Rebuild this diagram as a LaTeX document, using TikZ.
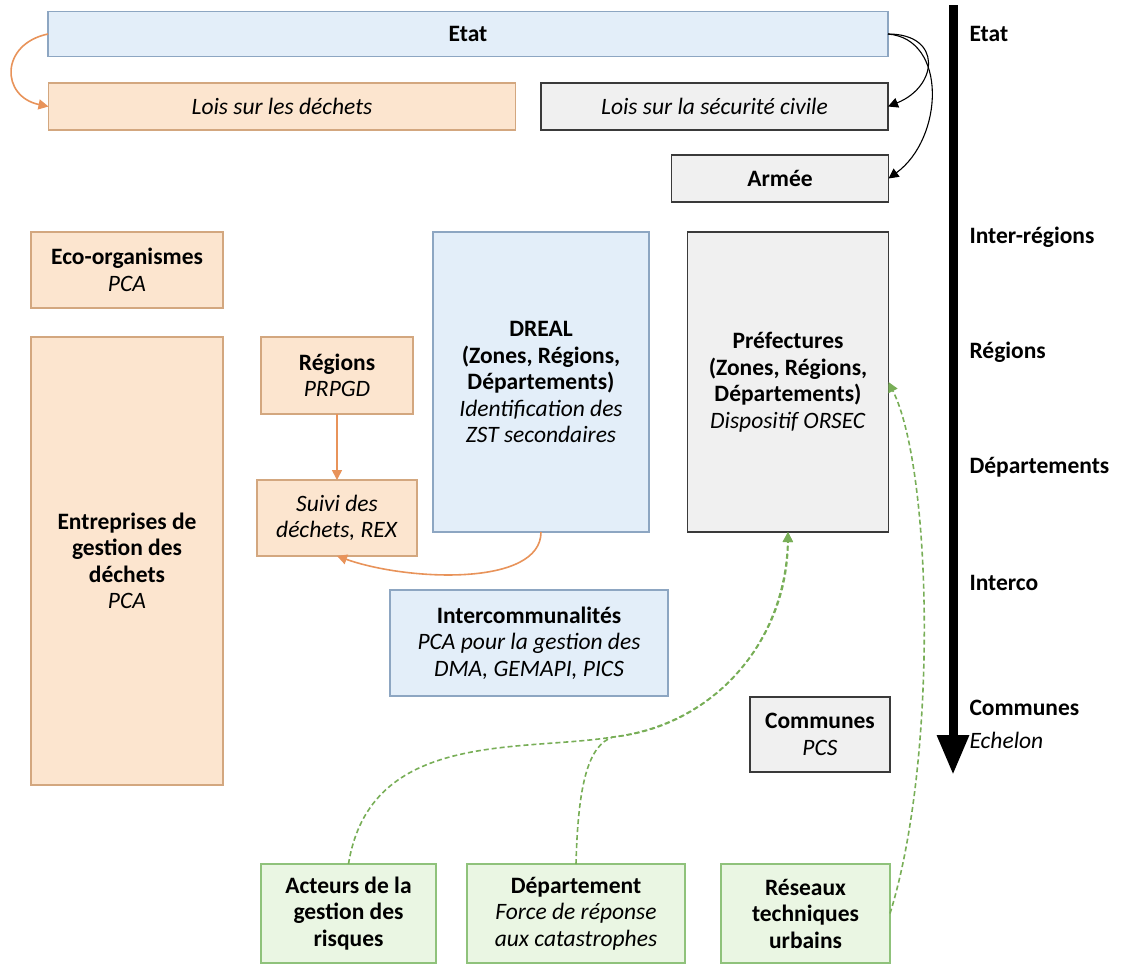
\documentclass[tikz,border=0pt]{standalone}
\usepackage{fontspec}
\setmainfont{Carlito}
\usepackage{tikz}
\usetikzlibrary{arrows.meta, positioning}

\definecolor{bleufond}{HTML}{E3EEF9}
\definecolor{bleutrait}{HTML}{8DA6C2}
\definecolor{orfond}{HTML}{FCE5CF}
\definecolor{ortrait}{HTML}{D3A77F}
\definecolor{orfleche}{HTML}{E8935A}
\definecolor{grisfond}{HTML}{F0F0F0}
\definecolor{gristrait}{HTML}{3A3A3A}
\definecolor{vertfond}{HTML}{EAF6E3}
\definecolor{verttrait}{HTML}{8FC27B}
\definecolor{vertfleche}{HTML}{78AE57}

\begin{document}
\begin{tikzpicture}[
  x=1pt, y=-1pt, font=\fontsize{23.5}{26.5}\selectfont,
  >={Triangle[length=10pt, width=10pt]},
  boite/.style={draw, line width=1.3pt, align=center, inner sep=0pt, outer sep=0pt},
  bleu/.style={boite, fill=bleufond, draw=bleutrait},
  dech/.style={boite, fill=orfond, draw=ortrait},
  secu/.style={boite, fill=grisfond, draw=gristrait},
  appui/.style={boite, fill=vertfond, draw=verttrait},
  niveau/.style={anchor=west, font=\fontsize{23.5}{26.5}\selectfont\bfseries},
  flor/.style={->, orfleche, line width=1.6pt},
  flnoir/.style={->, black, line width=1.1pt},
  flvert/.style={->, vertfleche, line width=1.6pt, dash pattern=on 5pt off 3pt}]
  \useasboundingbox (0,0) rectangle (1123,970);
  % niveau Etat
  \node[bleu, minimum width=840pt, minimum height=45pt] (etat) at (468,34) {\textbf{Etat}};
  \node[dech, minimum width=467pt, minimum height=47pt] (loisdech) at (282,106.5) {\textit{Lois sur les déchets}};
  \node[secu, minimum width=347pt, minimum height=47pt] (loissecu) at (714.5,106.5) {\textit{Lois sur la sécurité civile}};
  \node[secu, minimum width=217pt, minimum height=47pt] (armee) at (780,178.5) {\textbf{Armée}};
  % déchets
  \node[dech, minimum width=192pt, minimum height=76pt] (eco) at (127,270) {\textbf{Eco-organismes}\\\textit{PCA}};
  \node[dech, minimum width=192pt, minimum height=448pt] (entr) at (127,561) {\textbf{Entreprises de}\\\textbf{gestion des}\\\textbf{déchets}\\\textit{PCA}};
  \node[dech, minimum width=152pt, minimum height=77pt] (regions) at (337,375.5) {\textbf{Régions}\\\textit{PRPGD}};
  \node[dech, minimum width=160pt, minimum height=76pt] (suivi) at (337,518) {\textit{Suivi des}\\\textit{déchets, REX}};
  % services de l'Etat
  \node[bleu, minimum width=216pt, minimum height=300pt] (dreal) at (541,382) {\textbf{DREAL}\\\textbf{(Zones, Régions,}\\\textbf{Départements)}\\\textit{Identification des}\\\textit{ZST secondaires}};
  \node[secu, minimum width=201pt, minimum height=300pt] (pref) at (788,382) {\textbf{Préfectures}\\\textbf{(Zones, Régions,}\\\textbf{Départements)}\\\textit{Dispositif ORSEC}};
  \node[bleu, minimum width=278pt, minimum height=106pt] (interco) at (529,643) {\textbf{Intercommunalités}\\\textit{PCA pour la gestion des}\\\textit{DMA, GEMAPI, PICS}};
  \node[secu, minimum width=140pt, minimum height=75pt] (communes) at (820,734.5) {\textbf{Communes}\\\textit{PCS}};
  % appuis
  \node[appui, minimum width=175pt, minimum height=99pt] (acteurs) at (348.5,913.5) {\textbf{Acteurs de la}\\\textbf{gestion des}\\\textbf{risques}};
  \node[appui, minimum width=218pt, minimum height=99pt] (dept) at (576,913.5) {\textbf{Département}\\\textit{Force de réponse}\\\textit{aux catastrophes}};
  \node[appui, minimum width=169pt, minimum height=99pt] (reseaux) at (805.5,913.5) {\textbf{Réseaux}\\\textbf{techniques}\\\textbf{urbains}};
  % échelons
  \coordinate (axehaut) at (953,5);
  \coordinate (axebas) at (953,775);
  \draw[line width=9pt, -{Triangle[length=40pt, width=30pt]}] (axehaut) -- (axebas);
  \node[niveau] (nEtat) at (966,34) {Etat};
  \node[niveau] (nInter) at (966,237) {Inter-régions};
  \node[niveau] (nReg) at (966,352) {Régions};
  \node[niveau] (nDep) at (966,467) {Départements};
  \node[niveau] (nInterco) at (966,583) {Interco};
  \node[niveau] (nCom) at (966,708) {Communes};
  \node[anchor=west] (nEch) at (966,740) {\textit{Echelon}};
  % flèches
  \draw[flor] (etat.west) .. controls +(-48,10) and +(-48,-10) .. (loisdech.west);
  \draw[flnoir] (etat.east) .. controls +(55,0) and +(50,-20) .. (loissecu.east);
  \draw[flnoir] (etat.east) .. controls +(60,5) and +(55,-40) .. (armee.east);
  \draw[flor] (regions) -- (suivi);
  \draw[flor] (dreal.south) .. controls +(0,55) and +(70,25) .. (suivi.south);
  % appuis -> préfectures
  \coordinate (jonction) at (613,737);
  \draw[flvert] (acteurs.north) .. controls (370,730) and (520,752) .. (jonction)
    .. controls (713,727) and (788,640) .. (pref.south);
  \draw[flvert] (dept.north) .. controls (578,785) and (588,745) .. (jonction)
    .. controls (716,724) and (785,642) .. (pref.south);
  \draw[flvert] (reseaux.east) .. controls +(48,-154) and +(44,88) .. (pref.east);
\end{tikzpicture}
\end{document}
